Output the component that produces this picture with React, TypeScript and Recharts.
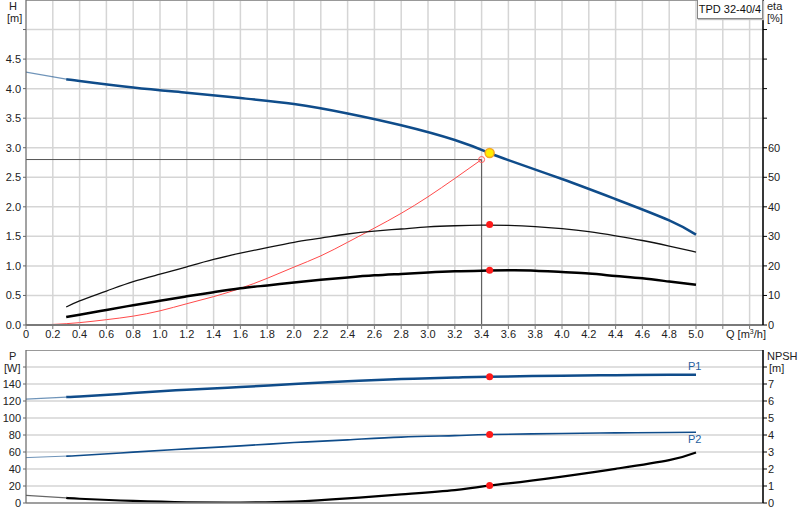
import React from "react";
import {
  ComposedChart,
  Line,
  XAxis,
  YAxis,
  CartesianGrid,
  ReferenceDot,
  ReferenceLine,
} from "recharts";

// axis ticks
const qTicks = [0, 0.2, 0.4, 0.6, 0.8, 1.0, 1.2, 1.4, 1.6, 1.8, 2.0, 2.2, 2.4, 2.6, 2.8, 3.0, 3.2, 3.4, 3.6, 3.8, 4.0, 4.2, 4.4, 4.6, 4.8, 5.0, 5.2, 5.4];
const hTicks = [0, 0.5, 1.0, 1.5, 2.0, 2.5, 3.0, 3.5, 4.0, 4.5, 5.0];
const etaTicks = [0, 10, 20, 30, 40, 50, 60, 70, 80, 90, 100];
const pTicks = [0, 20, 40, 60, 80, 100, 120, 140, 160];
const npshTicks = [0, 1, 2, 3, 4, 5, 6, 7, 8];

// head curve
const hLowQ = [0, 0.3];
const hLowVal = [4.28, 4.16];
const hQ = [0.3, 0.4, 0.8, 1.2, 1.6, 2.0, 2.4, 2.8, 3.2, 3.46, 3.6, 4.0, 4.4, 4.8, 5.0];
const hVal = [4.16, 4.13, 4.02, 3.93, 3.84, 3.74, 3.58, 3.38, 3.13, 2.91, 2.79, 2.47, 2.13, 1.77, 1.53];

// efficiency curves [%]
const etaQ = [0.3, 0.4, 0.6, 0.8, 1.0, 1.2, 1.4, 1.6, 1.8, 2.0, 2.2, 2.4, 2.6, 2.8, 3.0, 3.2, 3.4, 3.6, 3.8, 4.0, 4.2, 4.4, 4.6, 4.8, 5.0];
const etaPump = [6.1, 8.2, 11.5, 14.7, 17.2, 19.7, 22.2, 24.3, 26.2, 28.0, 29.4, 30.8, 31.8, 32.5, 33.2, 33.6, 33.8, 33.7, 33.3, 32.6, 31.6, 30.2, 28.6, 26.7, 24.7];
const etaTotal = [2.7, 3.5, 5.1, 6.7, 8.2, 9.7, 11.1, 12.4, 13.4, 14.4, 15.3, 16.1, 16.8, 17.3, 17.8, 18.2, 18.4, 18.5, 18.4, 17.9, 17.4, 16.6, 15.8, 14.7, 13.6];

// system curve up to the duty point
const sysQ = [0, 0.2, 0.4, 0.6, 0.8, 1.0, 1.2, 1.4, 1.6, 1.8, 2.0, 2.2, 2.4, 2.6, 2.8, 3.0, 3.2, 3.4];
const sysH = [0, 0.01, 0.04, 0.09, 0.15, 0.24, 0.36, 0.48, 0.62, 0.79, 0.98, 1.17, 1.4, 1.64, 1.89, 2.17, 2.48, 2.8];

// power [W]
const pLowQ = [0, 0.3];
const p1Low = [122.3, 124.6];
const p2Low = [53.4, 55.2];
const pQ = [0.3, 0.4, 0.8, 1.2, 1.6, 2.0, 2.4, 2.8, 3.2, 3.46, 4.0, 4.4, 4.8, 5.0];
const p1 = [124.6, 125.4, 129.3, 133.3, 136.4, 139.9, 143.1, 145.8, 147.6, 148.6, 149.8, 150.3, 150.8, 151.0];
const p2 = [55.2, 55.8, 59.8, 63.7, 67.2, 71.1, 74.3, 77.5, 79.3, 80.6, 81.8, 82.5, 83.0, 83.3];

// NPSH [m]
const npshLowQ = [0, 0.3];
const npshLow = [0.45, 0.3];
const npshQ = [0.3, 0.4, 0.8, 1.2, 1.6, 2.0, 2.4, 2.8, 3.2, 3.46, 3.6, 4.0, 4.4, 4.8, 5.0];
const npsh = [0.3, 0.25, 0.12, 0.04, 0.03, 0.08, 0.27, 0.51, 0.76, 1.03, 1.15, 1.55, 2.01, 2.52, 2.97];

// duty / operating point
const dutyQ = 3.4;
const dutyH = 2.8;
const opQ = 3.46;
const opH = 2.91;
const opEtaPump = 34;
const opEtaTotal = 18.5;
const opP1 = 148.6;
const opP2 = 80.6;
const opNpsh = 1.03;

const toSeries = (qs: number[], vs: number[]) => qs.map((q, i) => ({ q, v: vs[i] }));

const BLUE = "#0f4c8a";
const GRID = "#d5d5d5";
const FONT = "'Liberation Sans', Arial, sans-serif";
const tickStyle = { fontSize: 11, fill: "#222", fontFamily: FONT };

const fmtQ = (v: number) => (v > 5.0001 ? "" : v === 0 ? "0" : v.toFixed(1));

function Txt({ x, y, children, color = "#222" }: any) {
  return (
    <div
      style={{
        position: "absolute",
        left: x,
        top: y,
        fontSize: 11,
        lineHeight: "12px",
        color,
        fontFamily: FONT,
        whiteSpace: "nowrap",
      }}
    >
      {children}
    </div>
  );
}

export default function App() {
  const dutyLine = [
    { q: 0, v: dutyH },
    { q: dutyQ, v: dutyH },
    { q: dutyQ, v: 0 },
  ];
  return (
    <div style={{ position: "absolute", left: 0, top: 0, width: 800, height: 520, background: "#fff" }}>
      <div style={{ position: "absolute", left: 0, top: 0 }}>
        <ComposedChart width={800} height={345} margin={{ top: 0, right: 0, bottom: 0, left: 0 }}>
          <CartesianGrid yAxisId="h" stroke={GRID} strokeWidth={1.5} />
          <XAxis
            type="number"
            dataKey="q"
            domain={[0, 5.5]}
            ticks={qTicks}
            interval={0}
            allowDataOverflow
            tickFormatter={fmtQ}
            height={20}
            tick={tickStyle}
            tickSize={4}
            tickMargin={1}
            axisLine={{ stroke: "#7a7a7a", strokeWidth: 2 }}
            tickLine={{ stroke: "#7a7a7a" }}
          />
          <YAxis
            yAxisId="h"
            orientation="left"
            width={26}
            domain={[0, 5.5]}
            ticks={hTicks}
            interval={0}
            allowDataOverflow
            tickFormatter={(v: number) => (v > 4.5 ? "" : v.toFixed(1))}
            tick={tickStyle}
            tickSize={3}
            tickMargin={2}
            axisLine={{ stroke: "#666" }}
            tickLine={{ stroke: "#666" }}
          />
          <YAxis
            yAxisId="eta"
            orientation="right"
            width={37}
            domain={[0, 110]}
            ticks={etaTicks}
            interval={0}
            allowDataOverflow
            tickFormatter={(v: number) => (v > 60 ? "" : String(v))}
            tick={tickStyle}
            tickSize={4}
            tickMargin={1}
            axisLine={{ stroke: "#000", strokeWidth: 1.5 }}
            tickLine={{ stroke: "#000" }}
          />
          <ReferenceLine yAxisId="h" y={5.5} stroke="#999" strokeWidth={2} />
          <Line yAxisId="h" data={dutyLine} dataKey="v" type="linear" stroke="#555" strokeWidth={1} dot={false} isAnimationActive={false} />
          <Line yAxisId="h" data={toSeries(sysQ, sysH)} dataKey="v" type="natural" stroke="#ff4a4a" strokeWidth={1} dot={false} isAnimationActive={false} />
          <Line yAxisId="eta" data={toSeries(etaQ, etaPump)} dataKey="v" type="natural" stroke="#111" strokeWidth={1.3} dot={false} isAnimationActive={false} />
          <Line yAxisId="eta" data={toSeries(etaQ, etaTotal)} dataKey="v" type="natural" stroke="#000" strokeWidth={2.5} dot={false} isAnimationActive={false} />
          <Line yAxisId="h" data={toSeries(hLowQ, hLowVal)} dataKey="v" type="linear" stroke={BLUE} strokeOpacity={0.6} strokeWidth={1.2} dot={false} isAnimationActive={false} />
          <Line yAxisId="h" data={toSeries(hQ, hVal)} dataKey="v" type="natural" stroke={BLUE} strokeWidth={2.5} dot={false} isAnimationActive={false} />
          <ReferenceDot yAxisId="h" x={dutyQ} y={dutyH} r={3} fill="none" stroke="#ff5a5a" strokeWidth={1} />
          <ReferenceDot yAxisId="h" x={opQ} y={opH} r={4.5} fill="#ffee00" stroke="#f5a623" strokeWidth={1.5} />
          <ReferenceDot yAxisId="eta" x={opQ} y={opEtaPump} r={3.5} fill="#ff1a1a" stroke="none" />
          <ReferenceDot yAxisId="eta" x={opQ} y={opEtaTotal} r={3.5} fill="#ff1a1a" stroke="none" />
        </ComposedChart>
      </div>

      <div style={{ position: "absolute", left: 0, top: 350 }}>
        <ComposedChart width={800} height={170} margin={{ top: 0, right: 0, bottom: 16, left: 0 }}>
          <CartesianGrid yAxisId="p" stroke={GRID} strokeWidth={1.5} />
          <XAxis
            type="number"
            dataKey="q"
            domain={[0, 5.5]}
            ticks={qTicks}
            interval={0}
            allowDataOverflow
            tick={false}
            tickLine={false}
            height={1}
            axisLine={{ stroke: "#8a8a8a", strokeWidth: 1.5 }}
          />
          <YAxis
            yAxisId="p"
            orientation="left"
            width={26}
            domain={[0, 180]}
            ticks={pTicks}
            interval={0}
            allowDataOverflow
            tickFormatter={(v: number) => (v > 140 ? "" : String(v))}
            tick={tickStyle}
            tickSize={3}
            tickMargin={2}
            axisLine={{ stroke: "#666" }}
            tickLine={{ stroke: "#666" }}
          />
          <YAxis
            yAxisId="npsh"
            orientation="right"
            width={37}
            domain={[0, 9]}
            ticks={npshTicks}
            interval={0}
            allowDataOverflow
            tickFormatter={(v: number) => (v > 7 ? "" : String(v))}
            tick={tickStyle}
            tickSize={4}
            tickMargin={1}
            axisLine={{ stroke: "#000", strokeWidth: 1.5 }}
            tickLine={{ stroke: "#000" }}
          />
          <ReferenceLine yAxisId="p" y={180} stroke="#999" strokeWidth={2} />
          <Line yAxisId="p" data={toSeries(pLowQ, p1Low)} dataKey="v" type="linear" stroke={BLUE} strokeOpacity={0.6} strokeWidth={1.2} dot={false} isAnimationActive={false} />
          <Line yAxisId="p" data={toSeries(pQ, p1)} dataKey="v" type="natural" stroke={BLUE} strokeWidth={2.5} dot={false} isAnimationActive={false} />
          <Line yAxisId="p" data={toSeries(pLowQ, p2Low)} dataKey="v" type="linear" stroke={BLUE} strokeOpacity={0.6} strokeWidth={1} dot={false} isAnimationActive={false} />
          <Line yAxisId="p" data={toSeries(pQ, p2)} dataKey="v" type="natural" stroke={BLUE} strokeWidth={1.6} dot={false} isAnimationActive={false} />
          <Line yAxisId="npsh" data={toSeries(npshLowQ, npshLow)} dataKey="v" type="linear" stroke="#000" strokeOpacity={0.6} strokeWidth={1.2} dot={false} isAnimationActive={false} />
          <Line yAxisId="npsh" data={toSeries(npshQ, npsh)} dataKey="v" type="natural" stroke="#000" strokeWidth={2.2} dot={false} isAnimationActive={false} />
          <ReferenceDot yAxisId="p" x={opQ} y={opP1} r={3.5} fill="#ff1a1a" stroke="none" />
          <ReferenceDot yAxisId="p" x={opQ} y={opP2} r={3.5} fill="#ff1a1a" stroke="none" />
          <ReferenceDot yAxisId="npsh" x={opQ} y={opNpsh} r={3.5} fill="#ff1a1a" stroke="none" />
        </ComposedChart>
      </div>

      {/* axis captions */}
      <Txt x={9} y={0}>H</Txt>
      <Txt x={7} y={12}>[m]</Txt>
      <Txt x={767} y={0}>eta</Txt>
      <Txt x={767} y={12}>[%]</Txt>
      <Txt x={9} y={350}>P</Txt>
      <Txt x={4} y={362}>[W]</Txt>
      <Txt x={767} y={350}>NPSH</Txt>
      <Txt x={769} y={362}>[m]</Txt>
      <Txt x={726} y={328}>
        Q [m<sup style={{ fontSize: 7, verticalAlign: "top", lineHeight: "8px" }}>3</sup>/h]
      </Txt>
      <Txt x={688} y={360} color="#1f5e9e">P1</Txt>
      <Txt x={688} y={433} color="#1f5e9e">P2</Txt>

      {/* title box */}
      <div
        style={{
          position: "absolute",
          left: 697,
          top: 0,
          width: 64,
          height: 18,
          border: "1px solid #888",
          borderTop: "none",
          boxShadow: "1px 1px 1px #bbb",
          background: "#fff",
          fontFamily: FONT,
          fontSize: 11,
          lineHeight: "18px",
          textAlign: "center",
          color: "#111",
        }}
      >
        TPD 32-40/4
      </div>
    </div>
  );
}
